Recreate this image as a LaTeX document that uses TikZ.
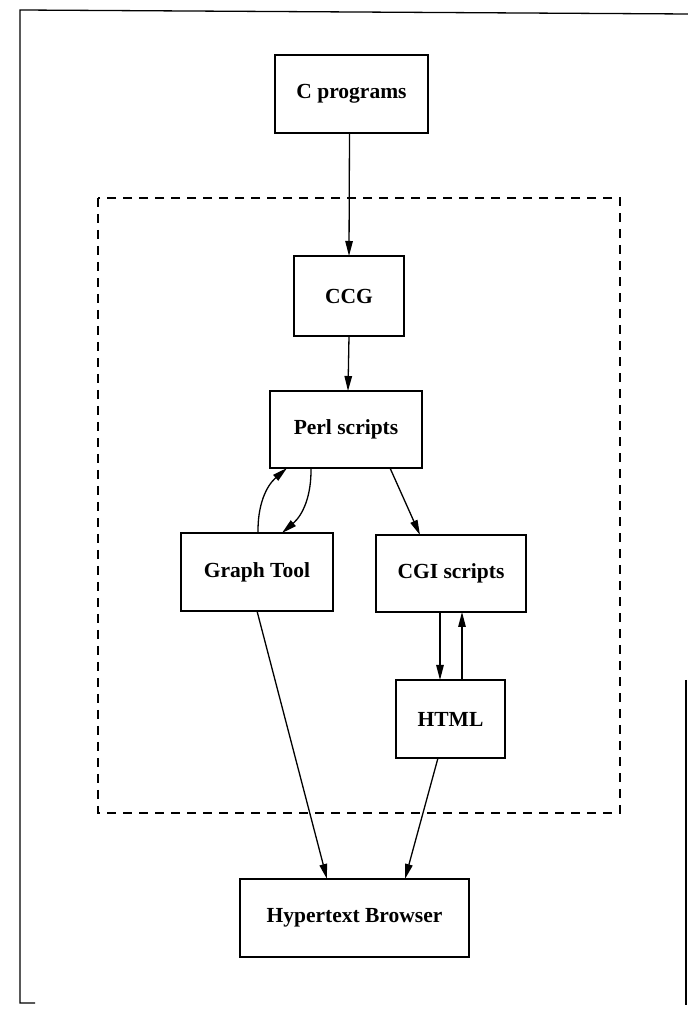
\documentclass[tikz,border=0pt]{standalone}
\usepackage{fontspec}
\setmainfont{Liberation Serif}
\usetikzlibrary{arrows.meta}
\begin{document}
\begin{tikzpicture}[x=1pt,y=1pt,
  box/.style={draw, line width=1.3pt, inner sep=0pt, outer sep=0pt, font=\fontsize{21.5}{25}\selectfont\bfseries},
  conn/.style={line width=1.3pt, -{Triangle[length=15pt,width=7.5pt]}},
  frame/.style={line width=1.3pt},
  group/.style={line width=1.3pt, dash pattern=on 9pt off 7pt}]
\useasboundingbox (0,0) rectangle (688,1010);
% outer frame
\draw[frame] (35,7) -- (20,7) -- (20,1000) -- (688,996);
\draw[frame] (686,330) -- (686,5);
% dashed group
\draw[group] (98,812) rectangle (620,197);
% nodes
\node[box, minimum width=153pt, minimum height=78pt] (cprog) at (351.5,916) {C programs};
\node[box, minimum width=110pt, minimum height=80pt] (ccg) at (349,714) {CCG};
\node[box, minimum width=152pt, minimum height=77pt] (perl) at (346,580.5) {Perl scripts};
\node[box, minimum width=152pt, minimum height=78pt] (graph) at (257,438) {Graph Tool};
\node[box, minimum width=150pt, minimum height=77pt] (cgi) at (451,436.5) {CGI scripts};
\node[box, minimum width=109pt, minimum height=78pt] (html) at (450.5,291) {HTML};
\node[box, minimum width=229pt, minimum height=78pt] (hyper) at (354.5,92) {Hypertext Browser};
% connectors
\draw[conn] ([xshift=-2pt]cprog.south) -- (ccg.north);
\draw[conn] (ccg.south) -- ([xshift=2pt]perl.north);
\draw[conn] ([xshift=1pt]graph.north) to[bend left=25] ([xshift=17pt]perl.south west);
\draw[conn] ([xshift=41pt]perl.south west) to[bend left=25] ([xshift=25pt]graph.north);
\draw[conn] ([xshift=44pt]perl.south) -- ([xshift=-31pt]cgi.north);
\draw[conn] ([xshift=-11pt]cgi.south) -- ([xshift=-10.5pt]html.north);
\draw[conn] ([xshift=11.5pt]html.north) -- ([xshift=11pt]cgi.south);
\draw[conn] (graph.south) -- ([xshift=-27.5pt]hyper.north);
\draw[conn] ([xshift=-12.5pt]html.south) -- ([xshift=50.5pt]hyper.north);
\end{tikzpicture}
\end{document}
